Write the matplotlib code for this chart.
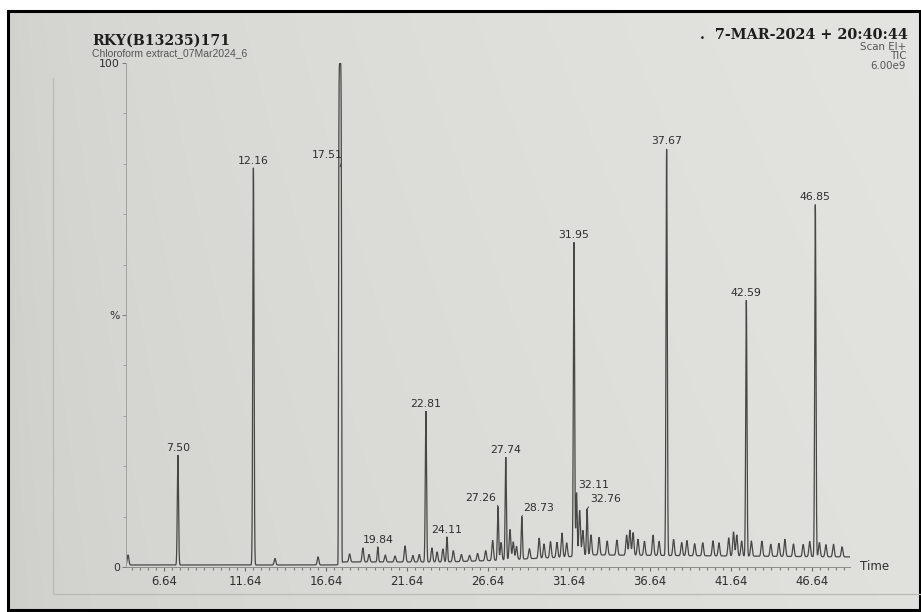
import numpy as np
import matplotlib
matplotlib.use("Agg")
import matplotlib.pyplot as plt
from matplotlib.patches import Rectangle

# ---- chromatogram data (retention time in min, relative abundance in %) ----
labeled_rt = [7.50, 12.16, 17.51, 19.84, 22.81, 24.11, 27.26, 27.74, 28.73,
              31.95, 32.11, 32.76, 37.67, 42.59, 46.85]
labeled_height = [22.2, 79.2, 100.0, 4.0, 31.0, 6.0, 12.0, 21.8, 10.0,
                  64.5, 14.7, 11.5, 83.0, 53.0, 72.0]

minor_rt = [4.42, 13.49, 16.15, 18.10, 18.92, 19.30, 20.30, 20.90, 21.52, 22.00,
            22.40, 23.18, 23.50, 23.86, 24.50, 25.00, 25.50, 26.00, 26.50, 26.93,
            27.45, 28.00, 28.20, 28.40, 29.20, 29.80, 30.10, 30.50, 30.90, 31.21,
            31.50, 32.30, 32.50, 33.00, 33.50, 34.00, 34.60, 35.20, 35.40, 35.60,
            35.90, 36.30, 36.83, 37.20, 38.10, 38.60, 38.92, 39.40, 39.90, 40.53,
            40.90, 41.50, 41.80, 42.00, 42.30, 42.90, 43.55, 44.10, 44.60, 44.97,
            45.50, 46.10, 46.50, 47.10, 47.50, 47.97, 48.50]
minor_height = [2.0, 1.3, 1.6, 1.6, 2.8, 1.5, 1.4, 1.2, 3.2, 1.3,
                1.5, 2.8, 2.0, 2.6, 2.2, 1.4, 1.2, 1.5, 2.0, 4.0,
                3.5, 6.0, 3.5, 2.6, 2.0, 4.0, 2.8, 3.2, 3.0, 4.8,
                2.8, 9.0, 5.0, 4.0, 3.5, 2.8, 3.0, 4.0, 5.0, 4.5,
                3.2, 2.8, 4.0, 2.8, 3.2, 2.6, 3.0, 2.4, 2.6, 3.0,
                2.6, 3.6, 4.8, 4.2, 3.0, 3.0, 3.0, 2.4, 2.6, 3.4,
                2.5, 2.4, 3.0, 2.8, 2.4, 2.5, 2.0]

baseline_rt = [4.30, 17.30, 17.70, 24.00, 27.00, 31.50, 33.00, 48.99]
baseline_level = [0.4, 0.4, 1.0, 1.0, 1.3, 2.0, 2.4, 2.0]

x_tick_labels = ["6.64", "11.64", "16.64", "21.64", "26.64",
                 "31.64", "36.64", "41.64", "46.64"]
y_tick_values = [0, 50, 100]
y_tick_labels = ["0", "%", "100"]

# ---- styling ----
INK = "#2e2e2e"
TRACE = "#474747"
W, H = 921, 612

fig = plt.figure(figsize=(W / 100, H / 100), dpi=100)
fig.patch.set_facecolor("white")

# paper background (photographed printout)
bg = fig.add_axes([0, 0, 1, 1])
bg.set_xlim(0, W)
bg.set_ylim(H, 0)
bg.axis("off")
gx = np.linspace(0, 1, 200)
gy = np.linspace(0, 1, 140)
GX, GY = np.meshgrid(gx, gy)
shade = 0.805 + 0.075 * np.sqrt(GX) + 0.012 * (1 - GY)
shade = np.clip(shade, 0, 1)
rgb = np.dstack([shade, shade, shade * 0.985])
bg.imshow(rgb, extent=(8, 920, 610, 11), aspect="auto", interpolation="bilinear")
bg.add_patch(Rectangle((8, 11), 912, 599, fill=False, edgecolor="black", lw=2.2))
bg.plot([53, 53, 921], [78, 594, 594], color="#b9b9b6", lw=0.9)

# header text
fig.text(92 / W, 1 - 41 / H, "RKY(B13235)171", family="DejaVu Serif",
         weight="bold", fontsize=10.2, color="#1e1e1e", va="center", ha="left")
fig.text(92 / W, 1 - 53 / H, "Chloroform extract_07Mar2024_6", family="Liberation Sans",
         fontsize=7.5, color="#555555", va="center", ha="left")
fig.text(908 / W, 1 - 35 / H, ".  7-MAR-2024 + 20:40:44", family="DejaVu Serif",
         weight="bold", fontsize=10.4, color="#1e1e1e", va="center", ha="right")
for txt, yy in [("Scan EI+", 47), ("TIC", 56), ("6.00e9", 66)]:
    fig.text(906 / W, 1 - yy / H, txt, family="DejaVu Sans", fontsize=7.4,
             color="#555555", va="center", ha="right")

# main chromatogram axes
x0, x1, y0, y1 = 126, 850, 63, 567
ax = fig.add_axes([x0 / W, 1 - y1 / H, (x1 - x0) / W, (y1 - y0) / H])
ax.patch.set_alpha(0)
t_min, t_max = 4.295, 48.99
ax.set_xlim(t_min, t_max)
ax.set_ylim(0, 100)

t = np.arange(4.30, 48.99, 0.004)
trace = np.interp(t, baseline_rt, baseline_level)
for rt, h in zip(minor_rt, minor_height):
    trace += h * np.exp(-0.5 * ((t - rt) / 0.05) ** 2)
for rt, h in zip(labeled_rt, labeled_height):
    rise = h - np.interp(rt, baseline_rt, baseline_level)
    if h >= 100:
        # detector saturation: flat-topped peak
        trace += rise * np.exp(-0.5 * np.abs((t - rt) / 0.09) ** 6)
    else:
        trace += rise * np.exp(-0.5 * ((t - rt) / 0.038) ** 2)
trace = np.minimum(trace, 100)
ax.plot(t, trace, color=TRACE, lw=0.9, solid_joinstyle="miter")

# axes styling
for s in ("top", "right"):
    ax.spines[s].set_visible(False)
ax.spines["left"].set_color("#a2a2a0")
ax.spines["left"].set_linewidth(0.7)
ax.spines["bottom"].set_color("#8c8c8a")
ax.spines["bottom"].set_linewidth(0.7)

xt = [float(s) for s in x_tick_labels]
ax.set_xticks(xt)
ax.set_xticklabels(x_tick_labels, fontsize=8.4, color=INK, family="DejaVu Sans")
ax.set_xticks(np.arange(4.64, 48.7, 0.5), minor=True)
ax.tick_params(axis="x", which="major", length=3, width=0.8, color="#6a6a6a", pad=3)
ax.tick_params(axis="x", which="minor", length=2, width=0.8, color="#7a7a7a")

ax.set_yticks(y_tick_values)
ax.set_yticklabels(y_tick_labels, fontsize=7.8, color=INK, family="DejaVu Sans")
ax.set_yticks(np.arange(10, 100, 10), minor=True)
ax.tick_params(axis="y", which="major", length=3, width=0.7, color="#7a7a7a", pad=1.5)
ax.tick_params(axis="y", which="minor", length=2, width=0.7, color="#a0a0a0")

fig.text(875 / W, 1 - 566 / H, "Time", fontsize=8.6, color=INK,
         family="DejaVu Sans", ha="center", va="center")

# peak labels; a few sit beside their peak with a leader line
leader_offsets = {17.51: (-13, 12), 27.26: (-17, 9), 28.73: (17, 9),
                  32.11: (17, 8), 32.76: (19, 10)}
leader_anchor = {17.51: 79.4}
for rt, h in zip(labeled_rt, labeled_height):
    label = f"{rt:.2f}"
    if rt in leader_offsets:
        dx, dy = leader_offsets[rt]
        ya = leader_anchor.get(rt, h)
        rel = (1, 0) if dx < 0 else (0, 0)
        ax.annotate(label, xy=(rt, ya), xytext=(dx * 0.72, dy * 0.72),
                    textcoords="offset points", ha="center", va="center",
                    fontsize=7.8, color=INK, family="DejaVu Sans",
                    arrowprops=dict(arrowstyle="-", color="#444444", lw=0.7,
                                    shrinkA=0, shrinkB=0, relpos=rel))
    else:
        ax.annotate(label, xy=(rt, h), xytext=(0, 1.6),
                    textcoords="offset points", ha="center", va="bottom",
                    fontsize=7.8, color=INK, family="DejaVu Sans")

fig.savefig("out.png", dpi=100, facecolor=fig.get_facecolor())
